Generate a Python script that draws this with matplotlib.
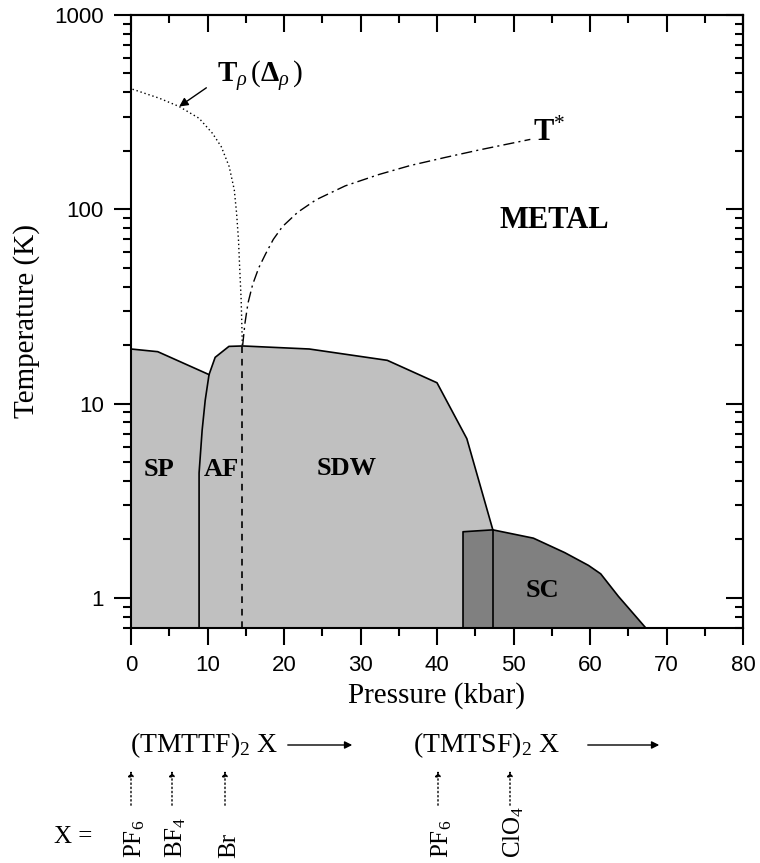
"""Generic (TMTTF)2X / (TMTSF)2X pressure-temperature phase diagram."""

import matplotlib

matplotlib.use("Agg")
import matplotlib.pyplot as plt
from matplotlib.patches import FancyArrowPatch
from matplotlib.ticker import FuncFormatter, MultipleLocator, NullFormatter

plt.rcParams["font.family"] = ["Liberation Serif", "DejaVu Serif"]
plt.rcParams["mathtext.fontset"] = "custom"
plt.rcParams["mathtext.rm"] = "Liberation Serif"
plt.rcParams["mathtext.it"] = "Liberation Serif:italic"
plt.rcParams["mathtext.bf"] = "Liberation Serif:bold"

# spin-Peierls boundary (kbar, K)
sp_p = [0.0, 3.5, 10.2]
sp_t = [19.1, 18.5, 14.1]

# AF / SDW boundary, from the AF onset up over the SDW dome
sdw_p = [8.9, 8.9, 9.3, 9.7, 10.2, 11.0, 12.8, 14.6, 23.3, 33.5, 40.0, 43.9, 47.3]
sdw_t = [0.7, 4.4, 7.3, 10.4, 14.1, 17.3, 19.7, 19.8, 19.1, 16.7, 12.8, 6.6, 2.24]

# superconducting dome
sc_p = [43.4, 43.4, 47.3, 52.6, 56.7, 59.8, 61.4, 63.7, 67.3]
sc_t = [0.7, 2.19, 2.24, 2.03, 1.71, 1.47, 1.33, 1.02, 0.7]

# charge localisation crossover T_rho
trho_p = [0.2, 3.7, 6.3, 8.9, 10.65, 11.8, 12.83, 13.5, 13.8, 14.05, 14.2, 14.4, 14.5, 14.55]
trho_t = [415, 373, 338, 294, 246, 210, 166, 126, 95.6, 69.6, 50.7, 34.2, 24.4, 20.0]

# deconfinement crossover T*
tstar_p = [14.6, 14.9, 15.3, 15.9, 16.7, 17.6, 18.6, 19.8, 21.8, 24.2, 28.0,
           32.4, 36.5, 41.1, 45.5, 52.2]
tstar_t = [20.0, 26.0, 33.0, 41.0, 50.0, 59.0, 70.0, 81.5, 96.6, 112, 132,
           151, 168, 185, 202, 229]

# boundary between localised and deconfined regimes
p_cross = 14.5

# anions placed along the pressure scale (figure x in px, label)
salt_x = [131, 172, 225, 438, 510]
salt_labels = [r"PF$_\mathrm{6}$", r"BF$_\mathrm{4}$", "Br", r"PF$_\mathrm{6}$", r"ClO$_\mathrm{4}$"]

# compound families (figure x of text start, arrow start, arrow end)
family_labels = [r"(TMTTF)$_\mathrm{2}$ X", r"(TMTSF)$_\mathrm{2}$ X"]
family_x = [130, 413]
family_arrows = [(285, 355), (585, 662)]

T_MIN, T_MAX = 0.7, 1000
W, H = 760, 863


def fx(px):
    return px / W


def fy(py):
    return 1 - py / H


fig = plt.figure(figsize=(W / 100, H / 100), dpi=100)
ax = fig.add_axes([fx(131), fy(628), fx(743 - 131), (628 - 15) / H])
ax.set_yscale("log")
ax.set_xlim(0, 80)
ax.set_ylim(T_MIN, T_MAX)

light = "#c0c0c0"
dark = "#808080"

# light grey insulating / SDW region
poly_p = [0.0] + sp_p + sdw_p[5:] + [sdw_p[-1]]
poly_t = [T_MIN] + sp_t + sdw_t[5:] + [T_MIN]
ax.fill(poly_p, poly_t, color=light, lw=0, zorder=1)
ax.fill(sc_p, sc_t, color=dark, lw=0, zorder=2)

ax.plot(sp_p, sp_t, color="k", lw=1.2, zorder=3)
ax.plot(sdw_p, sdw_t, color="k", lw=1.2, zorder=3)
ax.plot(sc_p + [80], sc_t + [T_MIN], color="k", lw=1.2, zorder=3)
ax.plot([sdw_p[-1], sdw_p[-1]], [T_MIN, sdw_t[-1]], color="k", lw=1.2, zorder=3)
ax.plot([p_cross, p_cross], [T_MIN, 20], color="k", lw=1.2, ls=(0, (4, 3.5)), zorder=3)
ax.plot(trho_p, trho_t, color="k", lw=1.0, ls=(0, (1, 2)), zorder=3)
ax.plot(tstar_p, tstar_t, color="k", lw=1.0, ls=(0, (8, 3, 1.5, 3)), zorder=3)

bold = dict(fontweight="bold", fontsize=19)
ax.text(3.7, 4.56, "SP", ha="center", va="center", **bold)
ax.text(11.8, 4.56, "AF", ha="center", va="center", **bold)
ax.text(28.2, 4.65, "SDW", ha="center", va="center", **bold)
ax.text(53.8, 1.09, "SC", ha="center", va="center", **bold)
ax.text(55.3, 88, "METAL", ha="center", va="center", fontweight="bold", fontsize=22)
ax.text(52.5, 245, r"$\mathbf{T}^{*}$", ha="left", va="center", fontsize=22)
ax.text(11.2, 480, r"$\mathbf{T}_{\rho}\,(\mathbf{\Delta}_{\rho}\,)$",
        ha="left", va="center", fontsize=21)
ax.annotate("", xy=(6.3, 338), xytext=(9.85, 422),
            arrowprops=dict(arrowstyle="-|>", color="k", lw=1.0,
                            mutation_scale=13, shrinkA=0, shrinkB=0))

# axes, ticks
ax.xaxis.set_major_locator(MultipleLocator(10))
ax.xaxis.set_minor_locator(MultipleLocator(5))
ax.yaxis.set_major_formatter(FuncFormatter(lambda v, _: f"{v:g}"))
ax.yaxis.set_minor_formatter(NullFormatter())
ax.tick_params(which="both", direction="out", width=1.5, top=False, right=False,
               labelsize=16, labelfontfamily="Liberation Sans", pad=7)
ax.tick_params(which="major", length=12.5)
ax.tick_params(which="minor", length=6)
for s in ax.spines.values():
    s.set_linewidth(1.5)
    s.set_zorder(5)

top = ax.secondary_xaxis("top")
top.xaxis.set_major_locator(MultipleLocator(10))
top.xaxis.set_minor_locator(MultipleLocator(5))
top.xaxis.set_major_formatter(NullFormatter())
top.tick_params(which="both", direction="in", width=1.5)
top.tick_params(which="major", length=12.5)
top.tick_params(which="minor", length=6)
top.spines["top"].set_linewidth(1.5)

right = ax.secondary_yaxis("right")
right.yaxis.set_major_formatter(NullFormatter())
right.yaxis.set_minor_formatter(NullFormatter())
right.tick_params(which="both", direction="in", width=1.5)
right.tick_params(which="major", length=12.5)
right.tick_params(which="minor", length=6)
right.spines["right"].set_linewidth(1.5)

ax.set_xlabel("Pressure (kbar)", fontsize=21, labelpad=4)
ax.set_ylabel("Temperature (K)", fontsize=21, labelpad=10)

# compound families and anions below the axis
for x, lab, (a0, a1) in zip(family_x, family_labels, family_arrows):
    fig.text(fx(x), fy(752), lab, fontsize=20, va="baseline")
    fig.add_artist(FancyArrowPatch(
        (fx(a0), fy(745)), (fx(a1), fy(745)), transform=fig.transFigure,
        arrowstyle="-|>", mutation_scale=11, color="k", lw=1.0))
for x, lab in zip(salt_x, salt_labels):
    fig.add_artist(FancyArrowPatch(
        (fx(x), fy(808)), (fx(x), fy(768)), transform=fig.transFigure,
        arrowstyle="-|>", mutation_scale=8, color="k", lw=1.0, ls=(0, (1, 2))))
    fig.text(fx(x + 4), fy(858), lab, rotation=90, fontsize=18,
             ha="center", va="bottom")
fig.text(fx(54), fy(837), "X =", fontsize=18, va="center")

fig.savefig("out.png", dpi=100)
